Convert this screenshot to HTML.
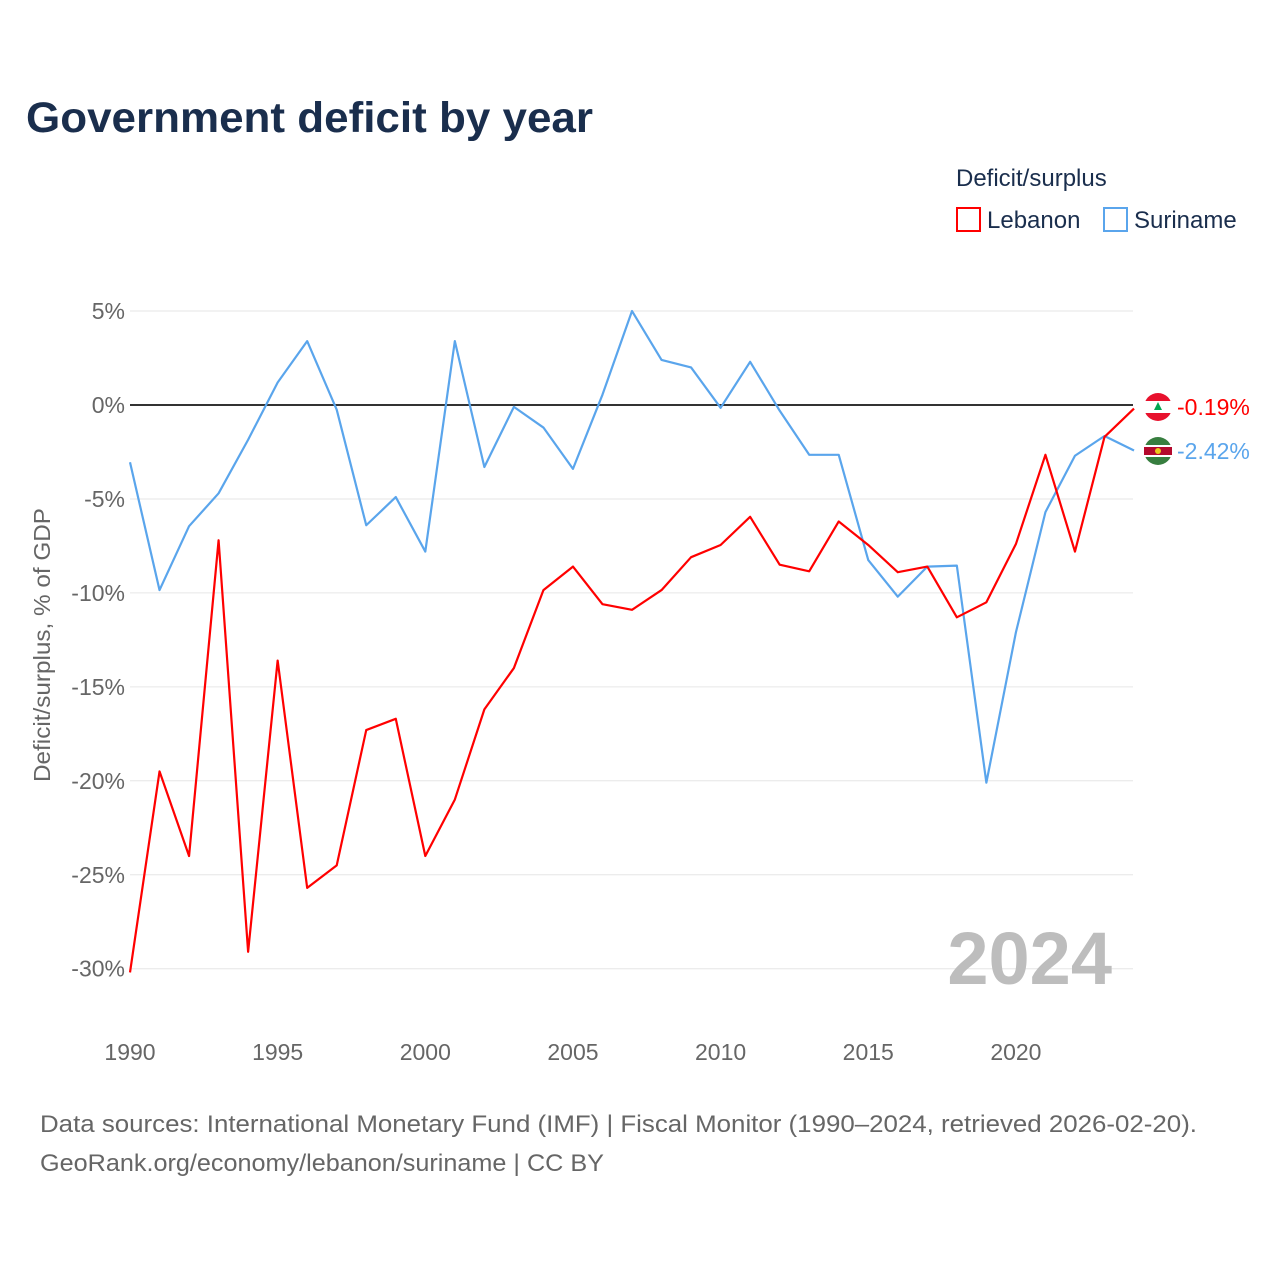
<!DOCTYPE html>
<html><head><meta charset="utf-8"><style>
body{margin:0;background:#fff;font-family:"Liberation Sans",sans-serif;}
svg text{font-family:"Liberation Sans",sans-serif;}
</style></head><body>
<svg id="chart" width="1280" height="1280" xmlns="http://www.w3.org/2000/svg">
<rect width="1280" height="1280" fill="#fff"/>
<text x="26" y="132" font-size="43" font-weight="bold" fill="#1a2e4d" textLength="567" lengthAdjust="spacingAndGlyphs">Government deficit by year</text>
<text x="956" y="186" font-size="24" fill="#1a2e4d">Deficit/surplus</text>
<g><rect x="957" y="208" width="23" height="23" fill="none" stroke="#f00" stroke-width="2"/><text x="987" y="228" font-size="24" fill="#1a2e4d">Lebanon</text></g>
<g><rect x="1104" y="208" width="23" height="23" fill="none" stroke="#5aa5ec" stroke-width="2"/><text x="1134" y="228" font-size="24" fill="#1a2e4d">Suriname</text></g>
<g id="grid"></g><g id="yticks"></g><g id="xticks"></g>
<text x="0" y="0" transform="translate(50,645) rotate(-90)" text-anchor="middle" font-size="23" fill="#666" textLength="274" lengthAdjust="spacingAndGlyphs">Deficit/surplus, % of GDP</text>
<text x="1112" y="984" text-anchor="end" font-size="74" font-weight="bold" fill="#bdbdbd">2024</text>
<g id="series"></g>
<text x="40" y="1132" font-size="24" fill="#666" textLength="1157" lengthAdjust="spacingAndGlyphs">Data sources: International Monetary Fund (IMF) | Fiscal Monitor (1990–2024, retrieved 2026-02-20).</text>
<text x="40" y="1171" font-size="24" fill="#666" textLength="564" lengthAdjust="spacingAndGlyphs">GeoRank.org/economy/lebanon/suriname | CC BY</text>
</svg>
<script>
const years=[];for(let y=1990;y<=2024;y++)years.push(y);
const lebanon=[-30.2,-19.5,-24.0,-7.2,-29.1,-13.6,-25.7,-24.5,-17.3,-16.7,-24.0,-21.0,-16.2,-14.0,-9.85,-8.6,-10.6,-10.9,-9.85,-8.1,-7.45,-5.95,-8.5,-8.85,-6.2,-7.45,-8.9,-8.6,-11.3,-10.5,-7.4,-2.65,-7.8,-1.7,-0.19];
const suriname=[-3.05,-9.85,-6.45,-4.7,-1.85,1.2,3.4,-0.25,-6.4,-4.9,-7.8,3.4,-3.3,-0.1,-1.2,-3.4,0.55,5.0,2.4,2.0,-0.15,2.3,-0.3,-2.65,-2.65,-8.25,-10.2,-8.6,-8.55,-20.1,-12.1,-5.7,-2.7,-1.65,-2.42];
const yTicks=[5,0,-5,-10,-15,-20,-25,-30];
const xTicks=[1990,1995,2000,2005,2010,2015,2020];
const X=y=>130+(y-1990)*29.53;
const Y=v=>405-v*18.79;
const NS="http://www.w3.org/2000/svg";
function mk(t,a,p){const e=document.createElementNS(NS,t);for(const k in a)e.setAttribute(k,a[k]);p.appendChild(e);return e;}
const grid=document.getElementById('grid'),yt=document.getElementById('yticks'),xt=document.getElementById('xticks'),ser=document.getElementById('series');
yTicks.forEach(v=>{
 const l=mk('line',{x1:130,x2:1133,y1:Y(v),y2:Y(v),stroke:v===0?'#333':'#e6e6e6','stroke-width':v===0?2:1},grid);
 
 
 const t=mk('text',{x:125,y:Y(v)+8,'text-anchor':'end','font-size':23,fill:'#666'},yt);
 t.textContent=v+'%';
 
 
});
xTicks.forEach(v=>{
 const t=mk('text',{x:X(v),y:1060,'text-anchor':'middle','font-size':23,fill:'#666'},xt);
 t.textContent=v;
 
 
});
function line(data,color,name){
 const p=mk('polyline',{points:data.map((v,i)=>X(years[i])+','+Y(v)).join(' '),fill:'none',stroke:color,'stroke-width':2.2,'stroke-linejoin':'round'},ser);
 
 
}
line(suriname,'#5aa5ec','suriname-line');
line(lebanon,'#f00','lebanon-line');
function endLabel(data,color,name,flag){
 const v=data[data.length-1];
 const g=mk('g',{},ser);
 
 
 const cy=name==='lebanon'?407:451;
 if(flag==='lb'){mk('circle',{cx:1158,cy:cy,r:14,fill:'#e8112d'},g);mk('rect',{x:1144,y:cy-6,width:28,height:12,fill:'#fff'},g);mk('path',{d:`M1158 ${cy-5}l4 8h-8z`,fill:'#00a651'},g);}
 else{mk('circle',{cx:1158,cy:cy,r:14,fill:'#377e3f'},g);mk('rect',{x:1144,y:cy-6,width:28,height:12,fill:'#fff'},g);mk('rect',{x:1144,y:cy-4,width:28,height:8,fill:'#b40a2d'},g);mk('circle',{cx:1158,cy:cy,r:3,fill:'#ecc81d'},g);}
 const t=mk('text',{x:1177,y:cy+8,'font-size':23,fill:color},g);
 t.textContent=v.toFixed(2)+'%';
}
endLabel(lebanon,'#f00','lebanon','lb');
endLabel(suriname,'#5aa5ec','suriname','sr');
</script>
</body></html>
